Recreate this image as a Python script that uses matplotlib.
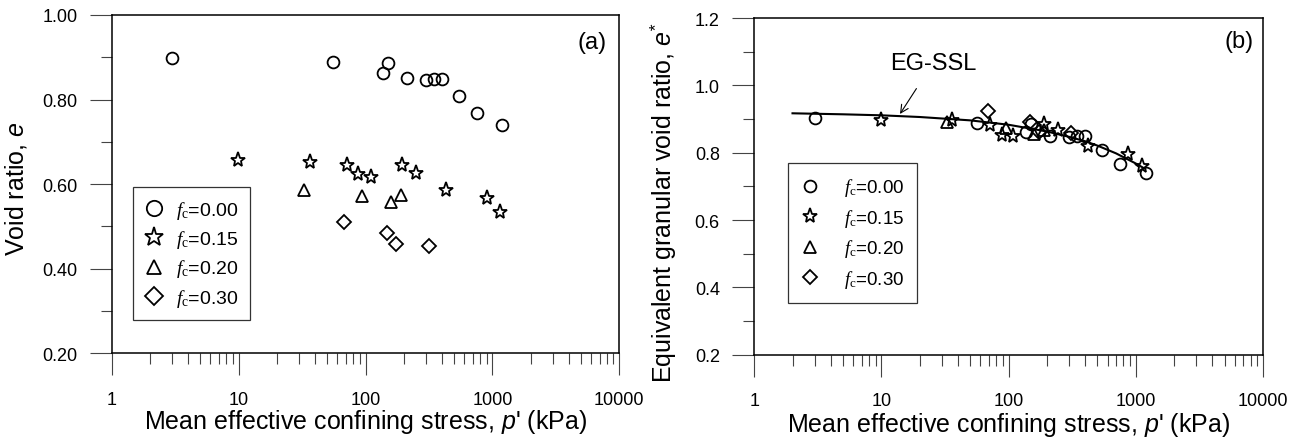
import matplotlib
matplotlib.use("Agg")
import matplotlib.pyplot as plt
from matplotlib.ticker import FixedLocator, NullFormatter, FormatStrFormatter

plt.rcParams['font.family'] = ['Liberation Sans', 'DejaVu Sans']
plt.rcParams['mathtext.fontset'] = 'custom'
plt.rcParams['mathtext.rm'] = 'Liberation Serif'
plt.rcParams['mathtext.it'] = 'Liberation Serif:italic'
plt.rcParams['mathtext.sf'] = 'Liberation Sans:italic'

# ---------------- data: panel (a) ----------------
p_a0 = [3.0, 55.8, 137.6, 150.7, 212.9, 298.6, 347, 400, 545, 759, 1200]
e_a0 = [0.898, 0.890, 0.863, 0.886, 0.850, 0.846, 0.848, 0.849, 0.808, 0.768, 0.741]
p_a15 = [9.8, 36.4, 71.6, 87.7, 110.7, 193, 249, 428, 902, 1138]
e_a15 = [0.657, 0.653, 0.646, 0.624, 0.616, 0.645, 0.627, 0.586, 0.567, 0.535]
p_a20 = [33.0, 93.8, 157.7, 188.8]
e_a20 = [0.587, 0.571, 0.558, 0.575]
p_a30 = [67.9, 148.3, 172.6, 319]
e_a30 = [0.510, 0.484, 0.459, 0.454]

# ---------------- data: panel (b) ----------------
p_b0 = [3.0, 56, 137, 150, 213, 296, 344, 401, 547, 758, 1205]
e_b0 = [0.903, 0.888, 0.861, 0.886, 0.849, 0.847, 0.849, 0.849, 0.807, 0.767, 0.740]
p_b15 = [9.9, 35.9, 71, 88, 108, 189, 243, 425, 875, 1120]
e_b15 = [0.898, 0.896, 0.883, 0.853, 0.851, 0.886, 0.868, 0.819, 0.797, 0.759]
p_b20 = [32.5, 96, 158, 189]
e_b20 = [0.890, 0.873, 0.855, 0.868]
p_b30 = [69, 148, 172, 310]
e_b30 = [0.925, 0.890, 0.862, 0.858]

# EG-SSL curve
p_ssl = [2, 5, 10, 20, 50, 100, 200, 300, 400, 500, 700, 1000, 1160]
e_ssl = [0.917, 0.914, 0.911, 0.906, 0.896, 0.883, 0.863, 0.847, 0.834, 0.821, 0.798, 0.768, 0.754]

labels = [r'$\mathit{f}_{\mathrm{c}}$=0.00', r'$\mathit{f}_{\mathrm{c}}$=0.15',
          r'$\mathit{f}_{\mathrm{c}}$=0.20', r'$\mathit{f}_{\mathrm{c}}$=0.30']
x_major = [1, 10, 100, 1000, 10000]
x_major_labels = ['1', '10', '100', '1000', '10000']

styles = [dict(marker='o', ms=8.5), dict(marker='*', ms=11),
          dict(marker='^', ms=8), dict(marker='D', ms=7)]

fig = plt.figure(figsize=(13.04, 4.39), dpi=100)
axA = fig.add_axes([0.0857, 0.1929, 0.3892, 0.7707])
axB = fig.add_axes([0.5784, 0.1897, 0.3901, 0.7670])


def style_axis(ax, ymaj, ymin, yfmt):
    ax.set_xscale('log')
    ax.set_xlim(1, 10000)
    ax.xaxis.set_major_locator(FixedLocator(x_major))
    ax.set_xticklabels(x_major_labels)
    minors = [m * 10 ** d for d in range(4) for m in range(2, 10)]
    ax.xaxis.set_minor_locator(FixedLocator(minors))
    ax.xaxis.set_minor_formatter(NullFormatter())
    ax.yaxis.set_major_locator(FixedLocator(ymaj))
    ax.yaxis.set_minor_locator(FixedLocator(ymin))
    ax.yaxis.set_major_formatter(FormatStrFormatter(yfmt))
    ax.tick_params(which='major', direction='out', length=15.8, width=0.8,
                   color='#444444', labelsize=13)
    ax.tick_params(which='minor', direction='out', length=7.9, width=0.8,
                   color='#444444')
    ax.tick_params(axis='x', which='major', pad=11.0)
    ax.tick_params(axis='y', which='major', pad=9.0)
    for s in ax.spines.values():
        s.set_linewidth(1.1)
        s.set_color('black')


series_a = [(p_a0, e_a0), (p_a15, e_a15), (p_a20, e_a20), (p_a30, e_a30)]
series_b = [(p_b0, e_b0), (p_b15, e_b15), (p_b20, e_b20), (p_b30, e_b30)]

for (p, e), st, lab in zip(series_a, styles, labels):
    axA.plot(p, e, ls='none', mfc='none', mec='black', mew=1.3, label=lab, **st)
for (p, e), st, lab in zip(series_b, styles, labels):
    axB.plot(p, e, ls='none', mfc='none', mec='black', mew=1.3, label=lab, **st)
axB.plot(p_ssl, e_ssl, color='black', lw=1.5, zorder=1)

style_axis(axA, [0.2, 0.4, 0.6, 0.8, 1.0], [0.3, 0.5, 0.7, 0.9], '%.2f')
axA.set_ylim(0.2, 1.0)
style_axis(axB, [0.2, 0.4, 0.6, 0.8, 1.0, 1.2], [0.3, 0.5, 0.7, 0.9, 1.1], '%.1f')
axB.set_ylim(0.2, 1.2)

xl = r"Mean effective confining stress, $\mathsf{p}$' (kPa)"
axA.set_xlabel(xl, fontsize=18)
axB.set_xlabel(xl, fontsize=18)
axA.xaxis.set_label_coords(0.5, -0.160)
axB.xaxis.set_label_coords(0.5, -0.163)
axA.set_ylabel(r'Void ratio, $\mathsf{e}$', fontsize=18)
axB.set_ylabel(r'Equivalent granular void ratio, $\mathsf{e}^{\mathsf{*}}$', fontsize=18)
axA.yaxis.set_label_coords(-0.163, 0.49)
axB.yaxis.set_label_coords(-0.150, 0.455)

axA.text(0.946, 0.920, '(a)', transform=axA.transAxes, ha='center', va='center', fontsize=17)
axB.text(0.953, 0.933, '(b)', transform=axB.transAxes, ha='center', va='center', fontsize=17)

axB.annotate('EG-SSL', xy=(14.0, 0.915), xytext=(25.4, 1.066),
             ha='center', va='center', fontsize=17,
             arrowprops=dict(arrowstyle='->', color='black', lw=0.8,
                             shrinkA=10, shrinkB=0, mutation_scale=14))

legA = axA.legend(loc='upper left', bbox_to_anchor=(0.042, 0.4916), fontsize=14,
                  frameon=True, fancybox=False, edgecolor='black', markerscale=1.3,
                  handlelength=1.0, handletextpad=0.6, labelspacing=0.38,
                  borderpad=0.6, borderaxespad=0)
legA.get_frame().set_linewidth(0.9)
legB = axB.legend(loc='upper left', bbox_to_anchor=(0.066, 0.569), fontsize=13.5,
                  frameon=True, fancybox=False, edgecolor='black',
                  handlelength=1.0, handletextpad=1.3, labelspacing=0.45,
                  borderpad=0.7, borderaxespad=0)
legB.get_frame().set_linewidth(0.9)

fig.savefig('out.png', dpi=100)
